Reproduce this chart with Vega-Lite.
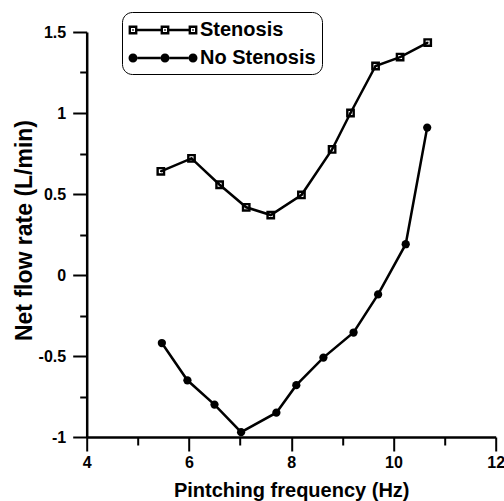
{
  "$schema": "https://vega.github.io/schema/vega-lite/v6.json",
  "width": 409,
  "height": 405,
  "autosize": {"type": "none"},
  "padding": {"left": 86.7, "top": 32, "right": 8.3, "bottom": 64},
  "config": {
    "view": {"stroke": null},
    "font": "Liberation Sans",
    "axis": {
      "grid": false,
      "ticks": true,
      "zindex": 1,
      "domainColor": "black",
      "domainWidth": 2.5,
      "tickColor": "black",
      "tickWidth": 2,
      "tickOpacity": 1,
      "tickDash": [],
      "labelFont": "Liberation Sans",
      "labelFontSize": 16,
      "labelFontWeight": "bold",
      "labelColor": "black",
      "titleFont": "Liberation Sans",
      "titleFontSize": 20,
      "titleFontWeight": "bold",
      "titleColor": "black"
    }
  },
  "data": {
    "values": [
      {"series": "Stenosis", "freq": 5.45, "rate": 0.64},
      {"series": "Stenosis", "freq": 6.05, "rate": 0.72},
      {"series": "Stenosis", "freq": 6.6, "rate": 0.557},
      {"series": "Stenosis", "freq": 7.12, "rate": 0.418},
      {"series": "Stenosis", "freq": 7.6, "rate": 0.37},
      {"series": "Stenosis", "freq": 8.2, "rate": 0.494},
      {"series": "Stenosis", "freq": 8.8, "rate": 0.775},
      {"series": "Stenosis", "freq": 9.16, "rate": 1.0},
      {"series": "Stenosis", "freq": 9.65, "rate": 1.29},
      {"series": "Stenosis", "freq": 10.13, "rate": 1.345},
      {"series": "Stenosis", "freq": 10.67, "rate": 1.435},
      {"series": "No Stenosis", "freq": 5.47, "rate": -0.42},
      {"series": "No Stenosis", "freq": 5.97, "rate": -0.65},
      {"series": "No Stenosis", "freq": 6.5, "rate": -0.8},
      {"series": "No Stenosis", "freq": 7.02, "rate": -0.97},
      {"series": "No Stenosis", "freq": 7.71, "rate": -0.85},
      {"series": "No Stenosis", "freq": 8.1, "rate": -0.68},
      {"series": "No Stenosis", "freq": 8.63, "rate": -0.51},
      {"series": "No Stenosis", "freq": 9.22, "rate": -0.355},
      {"series": "No Stenosis", "freq": 9.7, "rate": -0.12},
      {"series": "No Stenosis", "freq": 10.24, "rate": 0.19},
      {"series": "No Stenosis", "freq": 10.66, "rate": 0.91}
    ]
  },
  "encoding": {
    "x": {
      "field": "freq", "type": "quantitative",
      "scale": {"domain": [4, 12], "nice": false, "zero": false},
      "axis": {
        "orient": "bottom",
        "values": [4, 5, 6, 7, 8, 9, 10, 11, 12],
        "tickSize": {"condition": {"test": "datum.value % 2 == 0", "value": 14}, "value": 8},
        "labelExpr": "datum.value % 2 == 0 ? datum.label : ''",
        "labelFlush": false,
        "labelOverlap": false,
        "labelPadding": 3,
        "title": "Pintching frequency (Hz)",
        "titleY": 53,
        "titleBaseline": "middle"
      }
    },
    "y": {
      "field": "rate", "type": "quantitative",
      "scale": {"domain": [-1, 1.5], "nice": false, "zero": false},
      "axis": {
        "orient": "left",
        "values": [-1, -0.75, -0.5, -0.25, 0, 0.25, 0.5, 0.75, 1, 1.25, 1.5],
        "tickSize": {"condition": {"test": "(datum.value * 2) % 1 == 0", "value": 14}, "value": 7},
        "labelExpr": "(datum.value * 2) % 1 == 0 ? datum.value + '' : ''",
        "labelFlush": false,
        "labelOverlap": false,
        "labelPadding": 7,
        "title": "Net flow rate (L/min)",
        "titleFontSize": 23,
        "titleX": -61.7,
        "titleY": 198,
        "titleBaseline": "middle"
      }
    }
  },
  "layer": [
    {
      "mark": {"type": "line", "color": "black", "strokeWidth": 2.5},
      "encoding": {
        "detail": {"field": "series", "type": "nominal"}
      }
    },
    {
      "transform": [{"filter": "datum.series == 'Stenosis'"}],
      "mark": {"type": "point", "shape": "M-1.1,-1.1H1.1V1.1H-1.1Z M-0.5,-0.5V0.5H0.5V-0.5Z M-0.2,-0.2H0.2V0.2H-0.2Z", "filled": true, "color": "black", "opacity": 1, "size": 64}
    },
    {
      "transform": [{"filter": "datum.series == 'No Stenosis'"}],
      "mark": {"type": "point", "shape": "circle", "filled": true, "color": "black", "opacity": 1, "size": 68}
    },
    {
      "transform": [{"filter": "datum.freq > 100"}],
      "mark": {"type": "point", "filled": true, "color": "black", "opacity": 1},
      "encoding": {
        "shape": {
          "field": "series", "type": "nominal",
          "scale": {
            "domain": ["Stenosis", "No Stenosis"],
            "range": [
              "M-0.95,-0.367H-0.217V0.367H-0.95Z M-0.75,-0.167V0.167H-0.417V-0.167Z M-0.65,-0.067H-0.517V0.067H-0.65Z M1.717,-0.367H2.45V0.367H1.717Z M1.917,-0.167V0.167H2.25V-0.167Z M2.017,-0.067H2.15V0.067H2.017Z M4.05,-0.367H4.783V0.367H4.05Z M4.25,-0.167V0.167H4.583V-0.167Z M4.35,-0.067H4.483V0.067H4.35Z M-0.217,-0.1H1.717V0.1H-0.217Z M2.45,-0.1H4.05V0.1H2.45Z",
              "M-0.958,0A0.375,0.375 0 1,0 -0.208,0A0.375,0.375 0 1,0 -0.958,0Z M1.708,0A0.375,0.375 0 1,0 2.458,0A0.375,0.375 0 1,0 1.708,0Z M4.042,0A0.375,0.375 0 1,0 4.792,0A0.375,0.375 0 1,0 4.042,0Z M-0.208,-0.1H1.708V0.1H-0.208Z M2.458,-0.1H4.042V0.1H2.458Z"
            ]
          },
          "legend": {
            "title": null,
            "orient": "none",
            "legendX": 35.3,
            "legendY": -20,
            "symbolSize": 576,
            "symbolStrokeWidth": 0,
            "symbolFillColor": "black",
            "labelOffset": 48,
            "labelFont": "Liberation Sans",
            "labelFontSize": 20,
            "labelFontWeight": "bold",
            "labelColor": "black",
            "labelLimit": 400,
            "rowPadding": 6,
            "padding": 6,
            "strokeColor": "black",
            "cornerRadius": 10,
            "fillColor": "white"
          }
        }
      }
    }
  ]
}
